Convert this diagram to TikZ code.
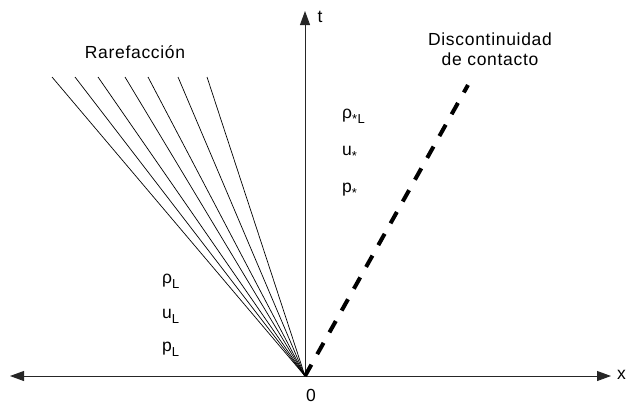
\documentclass[tikz,border=0pt]{standalone}
\usepackage{fontspec}
\setmainfont[LetterSpace=4]{Liberation Sans}
\usetikzlibrary{arrows.meta}
\newcommand{\lowsub}[1]{\raisebox{-0.3em}{\fontsize{13}{15}\selectfont #1}}
\tikzset{
  axis/.style={line width=0.9pt, draw=black!85, -{Triangle[length=14pt,width=10pt]}},
  fan/.style={line width=0.7pt},
  contact/.style={line width=4pt, dash pattern=on 13pt off 12pt},
  lbl/.style={font=\fontsize{17.5}{20}\selectfont, inner sep=0pt},
}
\begin{document}
\begin{tikzpicture}[x=1pt,y=-1pt]
\useasboundingbox (0,0) rectangle (628,405);
\coordinate (O) at (305,376);
\coordinate (L) at (10,376);
\coordinate (R) at (611,376);
\coordinate (T) at (305,11);
\coordinate (C) at (468,85);
\foreach \x [count=\i] in {52,75,98,125,148,178,207}
  \coordinate (f\i) at (\x,77);
% axes
\draw[axis] (O) -- (L);
\draw[axis] (O) -- (R);
\draw[axis] (O) -- (T);
% rarefaction fan
\foreach \i in {1,...,7} \draw[fan] (O) -- (f\i);
% contact discontinuity
\draw[contact] (O) -- (C);
% labels
\node[lbl] (t) at (320,17) {t};
\node[lbl, anchor=west] (x) at (617,375) {x};
\node[lbl] (zero) at (311,395) {0};
\node[lbl] (rare) at (135,52) {Rarefacción};
\node[lbl, align=center] (disc) at (490,49) {Discontinuidad\\[0pt]de contacto};
\node[lbl, anchor=west] (rs) at (342,116) {ρ\lowsub{*L}};
\node[lbl, anchor=west] (us) at (342,153) {u\lowsub{*}};
\node[lbl, anchor=west] (ps) at (342,190) {p\lowsub{*}};
\node[lbl, anchor=west] (rl) at (162,281) {ρ\lowsub{L}};
\node[lbl, anchor=west] (ul) at (162,316) {u\lowsub{L}};
\node[lbl, anchor=west] (pl) at (162,349) {p\lowsub{L}};
\end{tikzpicture}
\end{document}
